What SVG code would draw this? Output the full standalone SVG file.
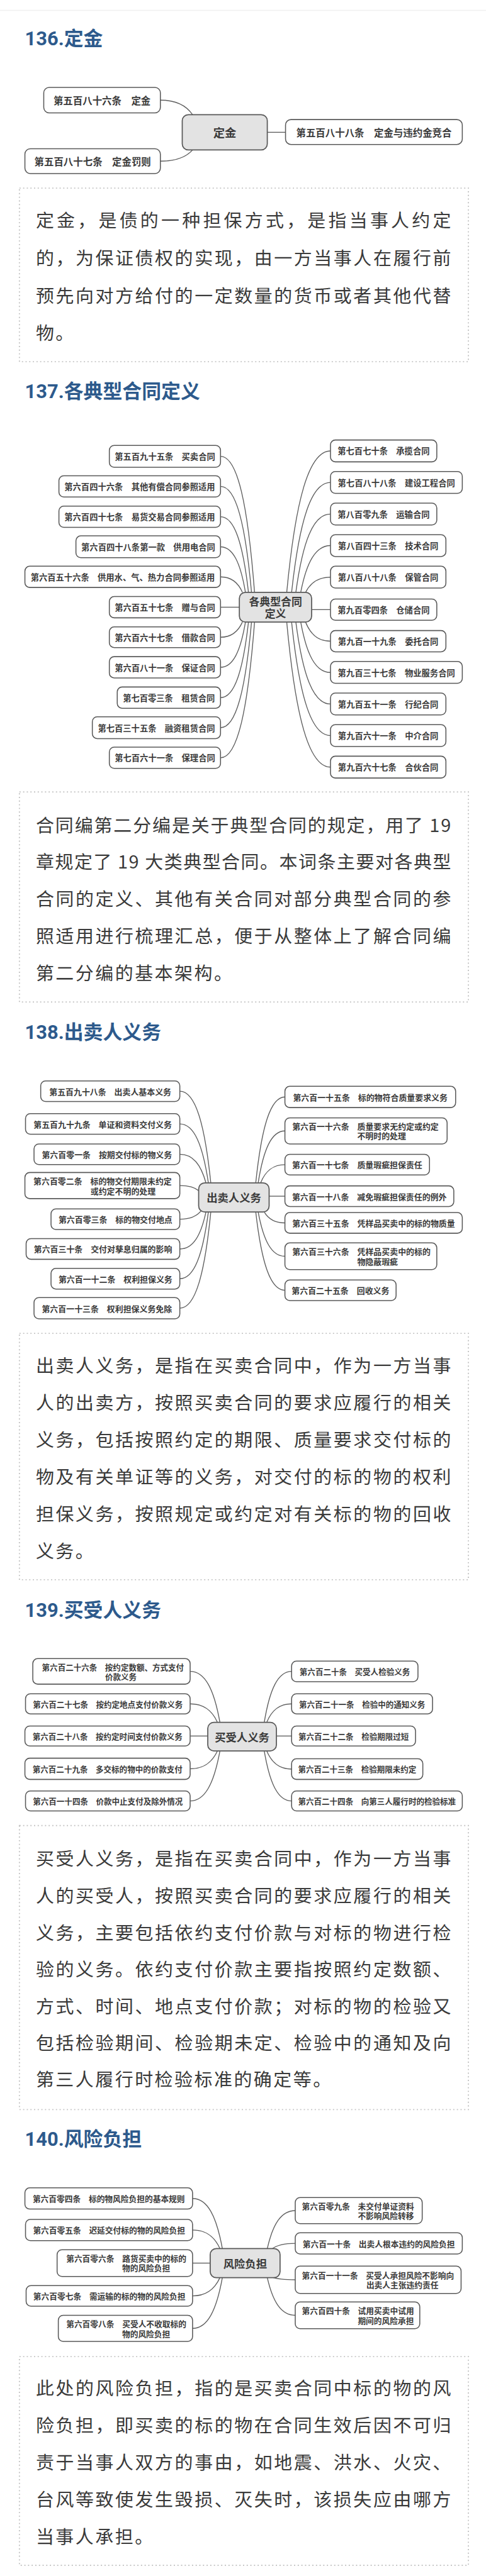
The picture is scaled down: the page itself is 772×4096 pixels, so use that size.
<svg xmlns="http://www.w3.org/2000/svg" width="772" height="4096" viewBox="0 0 772 4096">
<style>
.n rect{fill:#fff;stroke:#595959;stroke-width:1.6}
.c rect{fill:#e3e3e3;stroke:#595959;stroke-width:1.8}
.n text,.c text{font-family:"Noto Sans CJK SC","Noto Sans CJK JP",sans-serif;font-weight:700;fill:#3b3b3b;text-anchor:middle;dominant-baseline:central}
.n text.l{text-anchor:start}
.con path{fill:none;stroke:#5e5e5e;stroke-width:1.4}
.h{font-family:Roboto,"Noto Sans CJK SC",sans-serif;font-weight:700;font-size:32px;fill:#2d5a8c;dominant-baseline:central}
.b{font-family:"Noto Sans CJK SC",sans-serif;font-size:30px;fill:#3a3a3a;dominant-baseline:central;letter-spacing:2.6px}
.box{fill:none;stroke:#c6c6c6;stroke-width:2;stroke-dasharray:2 4}
</style>
<rect width="772" height="4096" fill="#fff"/>
<g transform="scale(0.965)">
<line x1="0" y1="17" x2="800" y2="17" stroke="#f0f0f0" stroke-width="1.5"/>

<!-- ===== 136 ===== -->
<g id="sec136">
<text class="h" x="41" y="64">136.定金</text>
<g id="con136" class="con">
<path d="M264,165 C290.5,165 306.4,173.4 317,189"/>
<path d="M264,265.5 C290.5,265.5 306.4,259 317,247"/>
<path d="M440,218 L470,218"/>
</g>
<g style="font-size:16px">
<g id="n136-586" class="n"><rect x="72" y="144" width="192" height="42" rx="9"/><text x="168" y="165">第五百八十六条　定金</text></g>
<g id="n136-587" class="n"><rect x="41" y="245" width="223" height="41" rx="9"/><text x="152.5" y="265.5">第五百八十七条　定金罚则</text></g>
<g id="n136-c" class="c"><rect x="300" y="189" width="140" height="58" rx="10"/><text x="370" y="218" style="font-size:19px">定金</text></g>
<g id="n136-588" class="n"><rect x="470" y="197" width="291" height="41" rx="9"/><text x="615.5" y="217.5">第五百八十八条　定金与违约金竞合</text></g>
</g>
<g id="t136">
<rect class="box" x="32" y="310" width="739" height="286"/>
<text class="b" x="59" y="361" textLength="686" lengthAdjust="spacing">定金，是债的一种担保方式，是指当事人约定</text>
<text class="b" x="59" y="423" textLength="686" lengthAdjust="spacing">的，为保证债权的实现，由一方当事人在履行前</text>
<text class="b" x="59" y="485" textLength="686" lengthAdjust="spacing">预先向对方给付的一定数量的货币或者其他代替</text>
<text class="b" x="59" y="546">物。</text>
</g>
</g>

<!-- ===== 137 ===== -->
<g id="sec137">
<text class="h" x="41" y="645">137.各典型合同定义</text>
<g id="con137" class="con">
<path d="M363,752 C391,752 407.8,830.4 419,976"/>
<path d="M363,801.5 C388.5,801.5 403.8,862.6 414,976"/>
<path d="M363,851.5 C386,851.5 399.8,895.1 409,976"/>
<path d="M363,901 C383.5,901 395.8,927.3 404,976"/>
<path d="M363,950.5 C381,950.5 391.8,959.4 399,976"/>
<path d="M363,1000.5 L394,1000.5"/>
<path d="M363,1050 C381,1050 391.8,1041.3 399,1025"/>
<path d="M363,1099.5 C383.5,1099.5 395.8,1073.4 404,1025"/>
<path d="M363,1149.5 C386,1149.5 399.8,1105.9 409,1025"/>
<path d="M363,1199 C388.5,1199 403.8,1138.1 414,1025"/>
<path d="M363,1248.5 C391,1248.5 407.8,1170.3 419,1025"/>
<path d="M544,743 C508,743 486.4,824.6 472,976"/>
<path d="M544,795 C512,795 492.8,858.4 480,976"/>
<path d="M544,847 C515.5,847 498.4,892.2 487,976"/>
<path d="M544,899 C519.5,899 504.8,926 495,976"/>
<path d="M544,951 C523.5,951 511.2,959.8 503,976"/>
<path d="M513,1004.5 L544,1004.5"/>
<path d="M544,1056.5 C523.5,1056.5 511.2,1045.5 503,1025"/>
<path d="M544,1108 C519.5,1108 504.8,1079 495,1025"/>
<path d="M544,1160 C515.5,1160 498.4,1112.8 487,1025"/>
<path d="M544,1212 C512,1212 492.8,1146.6 480,1025"/>
<path d="M544,1264 C508,1264 486.4,1180.4 472,1025"/>
</g>
<g style="font-size:13.8px">
<g id="n137-595" class="n"><rect x="180" y="734" width="183" height="36" rx="8"/><text x="271.5" y="752">第五百九十五条　买卖合同</text></g>
<g id="n137-646" class="n"><rect x="97" y="784" width="266" height="35" rx="8"/><text x="230" y="801.5">第六百四十六条　其他有偿合同参照适用</text></g>
<g id="n137-647" class="n"><rect x="97" y="834" width="266" height="35" rx="8"/><text x="230" y="851.5">第六百四十七条　易货交易合同参照适用</text></g>
<g id="n137-648" class="n"><rect x="125" y="883" width="238" height="36" rx="8"/><text x="244" y="901">第六百四十八条第一款　供用电合同</text></g>
<g id="n137-656" class="n"><rect x="41" y="933" width="322" height="35" rx="8"/><text x="202" y="950.5">第六百五十六条　供用水、气、热力合同参照适用</text></g>
<g id="n137-657" class="n"><rect x="180" y="983" width="183" height="35" rx="8"/><text x="271.5" y="1000.5">第六百五十七条　赠与合同</text></g>
<g id="n137-667" class="n"><rect x="180" y="1033" width="183" height="34" rx="8"/><text x="271.5" y="1050">第六百六十七条　借款合同</text></g>
<g id="n137-681" class="n"><rect x="180" y="1082" width="183" height="35" rx="8"/><text x="271.5" y="1099.5">第六百八十一条　保证合同</text></g>
<g id="n137-703" class="n"><rect x="193" y="1132" width="170" height="35" rx="8"/><text x="278" y="1149.5">第七百零三条　租赁合同</text></g>
<g id="n137-735" class="n"><rect x="152" y="1181" width="211" height="36" rx="8"/><text x="257.5" y="1199">第七百三十五条　融资租赁合同</text></g>
<g id="n137-761" class="n"><rect x="180" y="1231" width="183" height="35" rx="8"/><text x="271.5" y="1248.5">第七百六十一条　保理合同</text></g>
<g id="n137-c" class="c"><rect x="394" y="976" width="119" height="49" rx="10"/><text x="453.5" y="990.5" style="font-size:17.5px">各典型合同</text><text x="453.5" y="1010" style="font-size:17.5px">定义</text></g>
<g id="n137-770" class="n"><rect x="544" y="725" width="175" height="36" rx="8"/><text x="631.5" y="743">第七百七十条　承揽合同</text></g>
<g id="n137-788" class="n"><rect x="544" y="777" width="217" height="36" rx="8"/><text x="652.5" y="795">第七百八十八条　建设工程合同</text></g>
<g id="n137-809" class="n"><rect x="544" y="829" width="175" height="36" rx="8"/><text x="631.5" y="847">第八百零九条　运输合同</text></g>
<g id="n137-843" class="n"><rect x="544" y="881" width="190" height="36" rx="8"/><text x="639" y="899">第八百四十三条　技术合同</text></g>
<g id="n137-888" class="n"><rect x="544" y="933" width="190" height="36" rx="8"/><text x="639" y="951">第八百八十八条　保管合同</text></g>
<g id="n137-904" class="n"><rect x="544" y="987" width="175" height="35" rx="8"/><text x="631.5" y="1004.5">第九百零四条　仓储合同</text></g>
<g id="n137-919" class="n"><rect x="544" y="1039" width="190" height="35" rx="8"/><text x="639" y="1056.5">第九百一十九条　委托合同</text></g>
<g id="n137-937" class="n"><rect x="544" y="1090" width="217" height="36" rx="8"/><text x="652.5" y="1108">第九百三十七条　物业服务合同</text></g>
<g id="n137-951" class="n"><rect x="544" y="1142" width="190" height="36" rx="8"/><text x="639" y="1160">第九百五十一条　行纪合同</text></g>
<g id="n137-961" class="n"><rect x="544" y="1194" width="190" height="36" rx="8"/><text x="639" y="1212">第九百六十一条　中介合同</text></g>
<g id="n137-967" class="n"><rect x="544" y="1246" width="190" height="36" rx="8"/><text x="639" y="1264">第九百六十七条　合伙合同</text></g>
</g>
<g id="t137">
<rect class="box" x="32" y="1305" width="739" height="346"/>
<text class="b" x="59" y="1357" textLength="686" lengthAdjust="spacing">合同编第二分编是关于典型合同的规定，用了 19</text>
<text class="b" x="59" y="1418" textLength="686" lengthAdjust="spacing">章规定了 19 大类典型合同。本词条主要对各典型</text>
<text class="b" x="59" y="1479" textLength="686" lengthAdjust="spacing">合同的定义、其他有关合同对部分典型合同的参</text>
<text class="b" x="59" y="1540" textLength="686" lengthAdjust="spacing">照适用进行梳理汇总，便于从整体上了解合同编</text>
<text class="b" x="59" y="1601">第二分编的基本架构。</text>
</g>
</g>

<!-- ===== 138 ===== -->
<g id="sec138">
<text class="h" x="41" y="1701">138.出卖人义务</text>
<g id="con138" class="con">
<path d="M296,1798 C321.5,1798 336.8,1850.9 347,1949"/>
<path d="M296,1852 C319.5,1852 333.6,1886 343,1949"/>
<path d="M296,1902 C317.5,1902 330.4,1918.5 339,1949"/>
<path d="M296,1953.5 C311.5,1953.5 320.8,1956.5 327,1962"/>
<path d="M296,2009 C314,2009 324.8,2003.8 332,1994"/>
<path d="M296,2058 C317.5,2058 330.4,2036.7 339,1997"/>
<path d="M296,2107 C319.5,2107 333.6,2068.5 343,1997"/>
<path d="M296,2155.5 C321.5,2155.5 336.8,2100 347,1997"/>
<path d="M469,1807.5 C445,1807.5 430.6,1857 421,1949"/>
<path d="M469,1863.5 C447,1863.5 433.8,1893.4 425,1949"/>
<path d="M469,1919 C449,1919 437,1929.5 429,1949"/>
<path d="M443,1971 L469,1971"/>
<path d="M469,2015 C452,2015 441.8,2008.7 435,1997"/>
<path d="M469,2070 C447,2070 433.8,2044.5 425,1997"/>
<path d="M469,2126 C445,2126 430.6,2080.9 421,1997"/>
</g>
<g style="font-size:13.4px">
<g id="n138-598" class="n"><rect x="67" y="1781" width="229" height="34" rx="8"/><text x="181.5" y="1798">第五百九十八条　出卖人基本义务</text></g>
<g id="n138-599" class="n"><rect x="42" y="1835" width="254" height="34" rx="8"/><text x="169" y="1852">第五百九十九条　单证和资料交付义务</text></g>
<g id="n138-601" class="n"><rect x="56" y="1885" width="240" height="34" rx="8"/><text x="176" y="1902">第六百零一条　按期交付标的物义务</text></g>
<g id="n138-602" class="n"><rect x="41" y="1932" width="255" height="43" rx="8"/><text class="l" x="55" y="1946">第六百零二条　标的物交付期限未约定</text><text class="l" x="149" y="1962">或约定不明的处理</text></g>
<g id="n138-603" class="n"><rect x="84" y="1992" width="212" height="34" rx="8"/><text x="190" y="2009">第六百零三条　标的物交付地点</text></g>
<g id="n138-630" class="n"><rect x="43" y="2041" width="253" height="34" rx="8"/><text x="169.5" y="2058">第六百三十条　交付对孳息归属的影响</text></g>
<g id="n138-612" class="n"><rect x="84" y="2090" width="212" height="34" rx="8"/><text x="190" y="2107">第六百一十二条　权利担保义务</text></g>
<g id="n138-613" class="n"><rect x="56" y="2138" width="240" height="35" rx="8"/><text x="176" y="2155.5">第六百一十三条　权利担保义务免除</text></g>
<g id="n138-c" class="c"><rect x="327" y="1949" width="116" height="48" rx="10"/><text x="385" y="1973" style="font-size:18px">出卖人义务</text></g>
<g id="n138-615" class="n"><rect x="469" y="1790" width="281" height="35" rx="8"/><text x="609.5" y="1807.5">第六百一十五条　标的物符合质量要求义务</text></g>
<g id="n138-616" class="n"><rect x="469" y="1842" width="267" height="43" rx="8"/><text class="l" x="481" y="1855.5">第六百一十六条　质量要求无约定或约定</text><text class="l" x="588" y="1871.5">不明时的处理</text></g>
<g id="n138-617" class="n"><rect x="469" y="1902" width="238" height="34" rx="8"/><text x="588" y="1919">第六百一十七条　质量瑕疵担保责任</text></g>
<g id="n138-618" class="n"><rect x="469" y="1954" width="278" height="34" rx="8"/><text x="608" y="1971">第六百一十八条　减免瑕疵担保责任的例外</text></g>
<g id="n138-635" class="n"><rect x="469" y="1998" width="292" height="34" rx="8"/><text x="615" y="2015">第六百三十五条　凭样品买卖中的标的物质量</text></g>
<g id="n138-636" class="n"><rect x="469" y="2048" width="250" height="44" rx="8"/><text class="l" x="481" y="2062">第六百三十六条　凭样品买卖中的标的</text><text class="l" x="588" y="2078">物隐蔽瑕疵</text></g>
<g id="n138-625" class="n"><rect x="469" y="2109" width="183" height="34" rx="8"/><text x="560.5" y="2126">第六百二十五条　回收义务</text></g>
</g>
<g id="t138">
<rect class="box" x="32" y="2197" width="739" height="406"/>
<text class="b" x="59" y="2248" textLength="686" lengthAdjust="spacing">出卖人义务，是指在买卖合同中，作为一方当事</text>
<text class="b" x="59" y="2309" textLength="686" lengthAdjust="spacing">人的出卖方，按照买卖合同的要求应履行的相关</text>
<text class="b" x="59" y="2370" textLength="686" lengthAdjust="spacing">义务，包括按照约定的期限、质量要求交付标的</text>
<text class="b" x="59" y="2431" textLength="686" lengthAdjust="spacing">物及有关单证等的义务，对交付的标的物的权利</text>
<text class="b" x="59" y="2492" textLength="686" lengthAdjust="spacing">担保义务，按照规定或约定对有关标的物的回收</text>
<text class="b" x="59" y="2553">义务。</text>
</g>
</g>

<!-- ===== 139 ===== -->
<g id="sec139">
<text class="h" x="41" y="2653">139.买受人义务</text>
<g id="con139" class="con">
<path d="M313,2754 C337.5,2754 352.2,2783.4 362,2838"/>
<path d="M313,2807.5 C335.5,2807.5 349,2818.2 358,2838"/>
<path d="M313,2860.5 L342,2860.5"/>
<path d="M313,2914.5 C335.5,2914.5 349,2904.2 358,2885"/>
<path d="M313,2967.5 C337.5,2967.5 352.2,2938.6 362,2885"/>
<path d="M480,2754 C457.5,2754 444,2783.4 435,2838"/>
<path d="M480,2807.5 C459.5,2807.5 447.2,2818.2 439,2838"/>
<path d="M455,2860.5 L480,2860.5"/>
<path d="M480,2915 C459.5,2915 447.2,2904.5 439,2885"/>
<path d="M480,2967.5 C457.5,2967.5 444,2938.6 435,2885"/>
</g>
<g style="font-size:13px">
<g id="n139-626" class="n"><rect x="54" y="2733" width="259" height="42" rx="8"/><text class="l" x="69" y="2747">第六百二十六条　按约定数额、方式支付</text><text class="l" x="173" y="2762">价款义务</text></g>
<g id="n139-627" class="n"><rect x="42" y="2791" width="271" height="33" rx="8"/><text x="177.5" y="2807.5">第六百二十七条　按约定地点支付价款义务</text></g>
<g id="n139-628" class="n"><rect x="41" y="2844" width="272" height="33" rx="8"/><text x="177" y="2860.5">第六百二十八条　按约定时间支付价款义务</text></g>
<g id="n139-629" class="n"><rect x="41" y="2897" width="272" height="35" rx="8"/><text x="177" y="2914.5">第六百二十九条　多交标的物中的价款支付</text></g>
<g id="n139-614" class="n"><rect x="42" y="2951" width="271" height="33" rx="8"/><text x="177.5" y="2967.5">第六百一十四条　价款中止支付及除外情况</text></g>
<g id="n139-c" class="c"><rect x="342" y="2838" width="113" height="47" rx="10"/><text x="398.5" y="2861.5" style="font-size:18px">买受人义务</text></g>
<g id="n139-620" class="n"><rect x="480" y="2737" width="208" height="34" rx="8"/><text x="584" y="2754">第六百二十条　买受人检验义务</text></g>
<g id="n139-621" class="n"><rect x="480" y="2791" width="232" height="33" rx="8"/><text x="596" y="2807.5">第六百二十一条　检验中的通知义务</text></g>
<g id="n139-622" class="n"><rect x="480" y="2844" width="204" height="33" rx="8"/><text x="582" y="2860.5">第六百二十二条　检验期限过短</text></g>
<g id="n139-623" class="n"><rect x="480" y="2898" width="216" height="34" rx="8"/><text x="588" y="2915">第六百二十三条　检验期限未约定</text></g>
<g id="n139-624" class="n"><rect x="480" y="2951" width="281" height="33" rx="8"/><text x="620.5" y="2967.5">第六百二十四条　向第三人履行时的检验标准</text></g>
</g>
<g id="t139">
<rect class="box" x="32" y="3008" width="739" height="468"/>
<text class="b" x="59" y="3060" textLength="686" lengthAdjust="spacing">买受人义务，是指在买卖合同中，作为一方当事</text>
<text class="b" x="59" y="3121" textLength="686" lengthAdjust="spacing">人的买受人，按照买卖合同的要求应履行的相关</text>
<text class="b" x="59" y="3182" textLength="686" lengthAdjust="spacing">义务，主要包括依约支付价款与对标的物进行检</text>
<text class="b" x="59" y="3243" textLength="686" lengthAdjust="spacing">验的义务。依约支付价款主要指按照约定数额、</text>
<text class="b" x="59" y="3304" textLength="686" lengthAdjust="spacing">方式、时间、地点支付价款；对标的物的检验又</text>
<text class="b" x="59" y="3364" textLength="686" lengthAdjust="spacing">包括检验期间、检验期未定、检验中的通知及向</text>
<text class="b" x="59" y="3424">第三人履行时检验标准的确定等。</text>
</g>
</g>

<!-- ===== 140 ===== -->
<g id="sec140">
<text class="h" x="41" y="3525">140.风险负担</text>
<g id="con140" class="con">
<path d="M317,3622.5 C341.5,3622.5 356.2,3651.4 366,3705"/>
<path d="M317,3674.5 C339.5,3674.5 353,3685.2 362,3705"/>
<path d="M317,3729 L346,3729"/>
<path d="M317,3783 C339.5,3783 353,3772.5 362,3753"/>
<path d="M317,3836.5 C341.5,3836.5 356.2,3807.3 366,3753"/>
<path d="M486,3642.5 C463,3642.5 449.2,3664.4 440,3705"/>
<path d="M486,3696.5 C466.5,3696.5 454.8,3699.8 447,3706"/>
<path d="M486,3756.5 C466.5,3756.5 454.8,3754.9 447,3752"/>
<path d="M486,3815 C463,3815 449.2,3793.3 440,3753"/>
</g>
<g style="font-size:13.2px">
<g id="n140-604" class="n"><rect x="41" y="3605" width="276" height="35" rx="8"/><text x="179" y="3622.5">第六百零四条　标的物风险负担的基本规则</text></g>
<g id="n140-605" class="n"><rect x="42" y="3657" width="275" height="35" rx="8"/><text x="179.5" y="3674.5">第六百零五条　迟延交付标的物的风险负担</text></g>
<g id="n140-606" class="n"><rect x="94" y="3707" width="223" height="44" rx="8"/><text class="l" x="109" y="3720.5">第六百零六条　路货买卖中的标的</text><text class="l" x="201" y="3736.5">物的风险负担</text></g>
<g id="n140-607" class="n"><rect x="43" y="3766" width="274" height="34" rx="8"/><text x="180" y="3783">第六百零七条　需运输的标的物的风险负担</text></g>
<g id="n140-608" class="n"><rect x="96" y="3815" width="221" height="43" rx="8"/><text class="l" x="109" y="3829">第六百零八条　买受人不收取标的</text><text class="l" x="201" y="3845">物的风险负担</text></g>
<g id="n140-c" class="c"><rect x="346" y="3705" width="115" height="48" rx="10"/><text x="403.5" y="3729" style="font-size:18px">风险负担</text></g>
<g id="n140-609" class="n"><rect x="486" y="3621" width="209" height="43" rx="8"/><text class="l" x="497" y="3634.5">第六百零九条　未交付单证资料</text><text class="l" x="589" y="3650.5">不影响风险转移</text></g>
<g id="n140-610" class="n"><rect x="486" y="3679" width="275" height="35" rx="8"/><text x="623.5" y="3696.5">第六百一十条　出卖人根本违约的风险负担</text></g>
<g id="n140-611" class="n"><rect x="486" y="3734" width="273" height="45" rx="8"/><text class="l" x="497" y="3748.5">第六百一十一条　买受人承担风险不影响向</text><text class="l" x="603" y="3764.5">出卖人主张违约责任</text></g>
<g id="n140-640" class="n"><rect x="486" y="3793" width="205" height="44" rx="8"/><text class="l" x="497" y="3807">第六百四十条　试用买卖中试用</text><text class="l" x="589" y="3823">期间的风险承担</text></g>
</g>
<g id="t140">
<rect class="box" x="32" y="3883" width="739" height="344"/>
<text class="b" x="59" y="3933" textLength="686" lengthAdjust="spacing">此处的风险负担，指的是买卖合同中标的物的风</text>
<text class="b" x="59" y="3994" textLength="686" lengthAdjust="spacing">险负担，即买卖的标的物在合同生效后因不可归</text>
<text class="b" x="59" y="4055" textLength="686" lengthAdjust="spacing">责于当事人双方的事由，如地震、洪水、火灾、</text>
<text class="b" x="59" y="4116" textLength="686" lengthAdjust="spacing">台风等致使发生毁损、灭失时，该损失应由哪方</text>
<text class="b" x="59" y="4177">当事人承担。</text>
</g>
</g>
</g>
</svg>
